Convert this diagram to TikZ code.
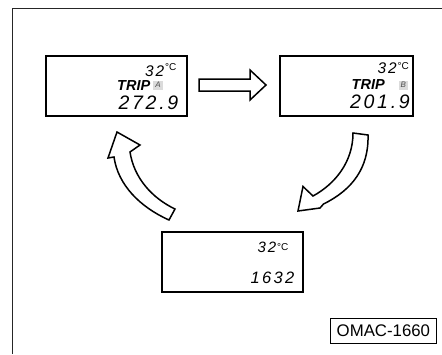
\documentclass[tikz,border=0pt]{standalone}
\usepackage{fontspec}
\setmainfont{Liberation Sans}
\begin{document}
\begin{tikzpicture}[x=1pt,y=-1pt,
  disp/.style={draw, line width=1.8pt, inner sep=0pt, anchor=north west},
  arr/.style={draw, line width=1.5pt, fill=white, line join=miter},
  segtext/.style={inner sep=0pt, font=\itshape\fontsize{#1}{#1}\selectfont\addfontfeature{LetterSpace=14}},
  degtext/.style={inner sep=0pt, anchor=base west, font=\fontsize{10}{10}\selectfont},
  triptext/.style={inner sep=0pt, anchor=base west, font=\bfseries\itshape\fontsize{14.5}{14.5}\selectfont},
  tagbox/.style={inner sep=0pt, anchor=south west, minimum width=9.5pt, minimum height=9.3pt,
                 fill=gray!28, text=gray!60!black, font=\itshape\fontsize{8}{8}\selectfont},
  frameline/.style={line width=1pt, black!85}
]
\useasboundingbox (0,0) rectangle (442,354);
% outer frame (top and left)
\draw[frameline] (12,354) -- (12,8) -- (442,8);

% displays
\node[disp, minimum width=141pt, minimum height=60pt] (d1) at (45,55) {};
\node[disp, minimum width=133pt, minimum height=60pt] (d2) at (279,55) {};
\node[disp, minimum width=141pt, minimum height=60pt] (d3) at (161,231) {};

% display 1
\node[segtext=15.4, anchor=base east] (t1) at (164.5,76) {32};
\node[degtext] (c1) at (165,70) {°C};
\node[triptext] (r1) at (117,90) {TRIP};
\node[tagbox] (a1) at (153,90) {A};
\node[segtext=19.5, anchor=base east] (v1) at (178.5,109) {272.9};

% display 2
\node[segtext=15.4, anchor=base east] (t2) at (397,73.3) {32};
\node[degtext] (c2) at (397.5,69.5) {°C};
\node[triptext] (r2) at (351.5,89.5) {TRIP};
\node[tagbox] (b2) at (398.3,90) {B};
\node[segtext=19.5, anchor=base east] (v2) at (410,108.5) {201.9};

% display 3
\node[segtext=15, anchor=base east] (t3) at (276.5,252.7) {32};
\node[degtext] (c3) at (277,250) {°C};
\node[segtext=16.5, anchor=base east] (v3) at (294.5,283.3) {1632};

% straight arrow display 1 -> display 2
\draw[arr] (199,79) -- (250,79) -- (250,70) -- (266,85) -- (250,100) -- (250,91) -- (199,91) -- cycle;

% curved arrow display 2 -> display 3
\draw[arr] (353,133) -- (368,135) .. controls (369,168) and (352,190) .. (323.5,204)
  -- (320,208) -- (298,211) -- (303,186.5) -- (313,196)
  .. controls (335,184) and (353,162) .. (353,133) -- cycle;

% curved arrow display 3 -> display 1
\draw[arr] (169,220) .. controls (140,207) and (118,185) .. (114,157)
  -- (108,158) -- (117,132) -- (140,145) -- (130,152)
  .. controls (134,178) and (152,198) .. (175,209) -- cycle;

% label
\node[draw, line width=0.8pt, anchor=north west, minimum width=106pt, minimum height=25pt,
      inner sep=0pt, font=\fontsize{16.8}{16.8}\selectfont] (lab) at (330,318) {OMAC-1660};
\end{tikzpicture}
\end{document}
